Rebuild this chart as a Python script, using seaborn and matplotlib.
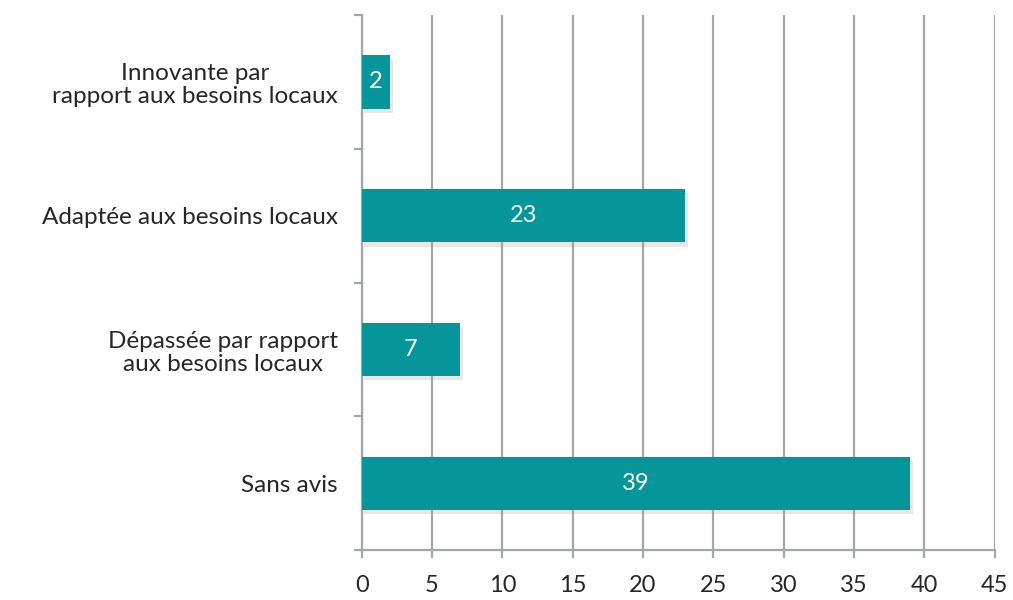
import matplotlib
matplotlib.use("Agg")
import matplotlib.pyplot as plt
import matplotlib.patheffects as pe
import seaborn as sns

# Data
categories = [
    "Innovante par\nrapport aux besoins locaux",
    "Adaptée aux besoins locaux",
    "Dépassée par rapport\naux besoins locaux",
    "Sans avis",
]
values = [2, 23, 7, 39]
x_ticks = [0, 5, 10, 15, 20, 25, 30, 35, 40, 45]

bar_color = "#06969A"
grid_color = "#A3A7A8"
text_color = "#262626"

sns.set_style("white")
plt.rcParams['font.family'] = ['Lato', 'DejaVu Sans']

fig = plt.figure(figsize=(10.13, 6), dpi=100)
ax = fig.add_axes([0.357, 0.083, 0.625, 0.892])

sns.barplot(x=values, y=categories, orient="h", color=bar_color,
            saturation=1, width=0.4, linewidth=0, ax=ax, zorder=3)

# soft drop shadow on bars
for p in ax.patches:
    p.set_path_effects([pe.SimplePatchShadow(offset=(2, -3), shadow_rgbFace="#a0a0a0", alpha=0.25),
                        pe.Normal()])

ax.bar_label(ax.containers[0], label_type="center", color="white", fontsize=17)

ax.set_xlim(0, 45)
ax.set_ylim(3.5, -0.5)
ax.set_xticks(x_ticks)
ax.set_xticklabels([str(t) for t in x_ticks], fontsize=17, color=text_color)
ax.set_xlabel("")
ax.set_ylabel("")

# vertical gridlines
ax.grid(axis="x", color=grid_color, linewidth=1.6, zorder=0)
ax.grid(axis="y", visible=False)
ax.set_axisbelow(True)

for side in ["top", "right"]:
    ax.spines[side].set_visible(False)
for side in ["left", "bottom"]:
    ax.spines[side].set_color(grid_color)
    ax.spines[side].set_linewidth(1.6)

# category boundary ticks on the y axis
ax.set_yticks([-0.5, 0.5, 1.5, 2.5, 3.5], minor=True)
ax.tick_params(axis="y", which="minor", length=6, width=1.6, color=grid_color, left=True)
ax.tick_params(axis="y", which="major", length=0, pad=17, labelsize=17.5, labelcolor=text_color)
ax.tick_params(axis="x", which="major", length=6, width=1.6, color=grid_color, bottom=True, pad=12)
plt.setp(ax.get_yticklabels(), multialignment="center", linespacing=1.15)

fig.savefig("out.png", dpi=100)
